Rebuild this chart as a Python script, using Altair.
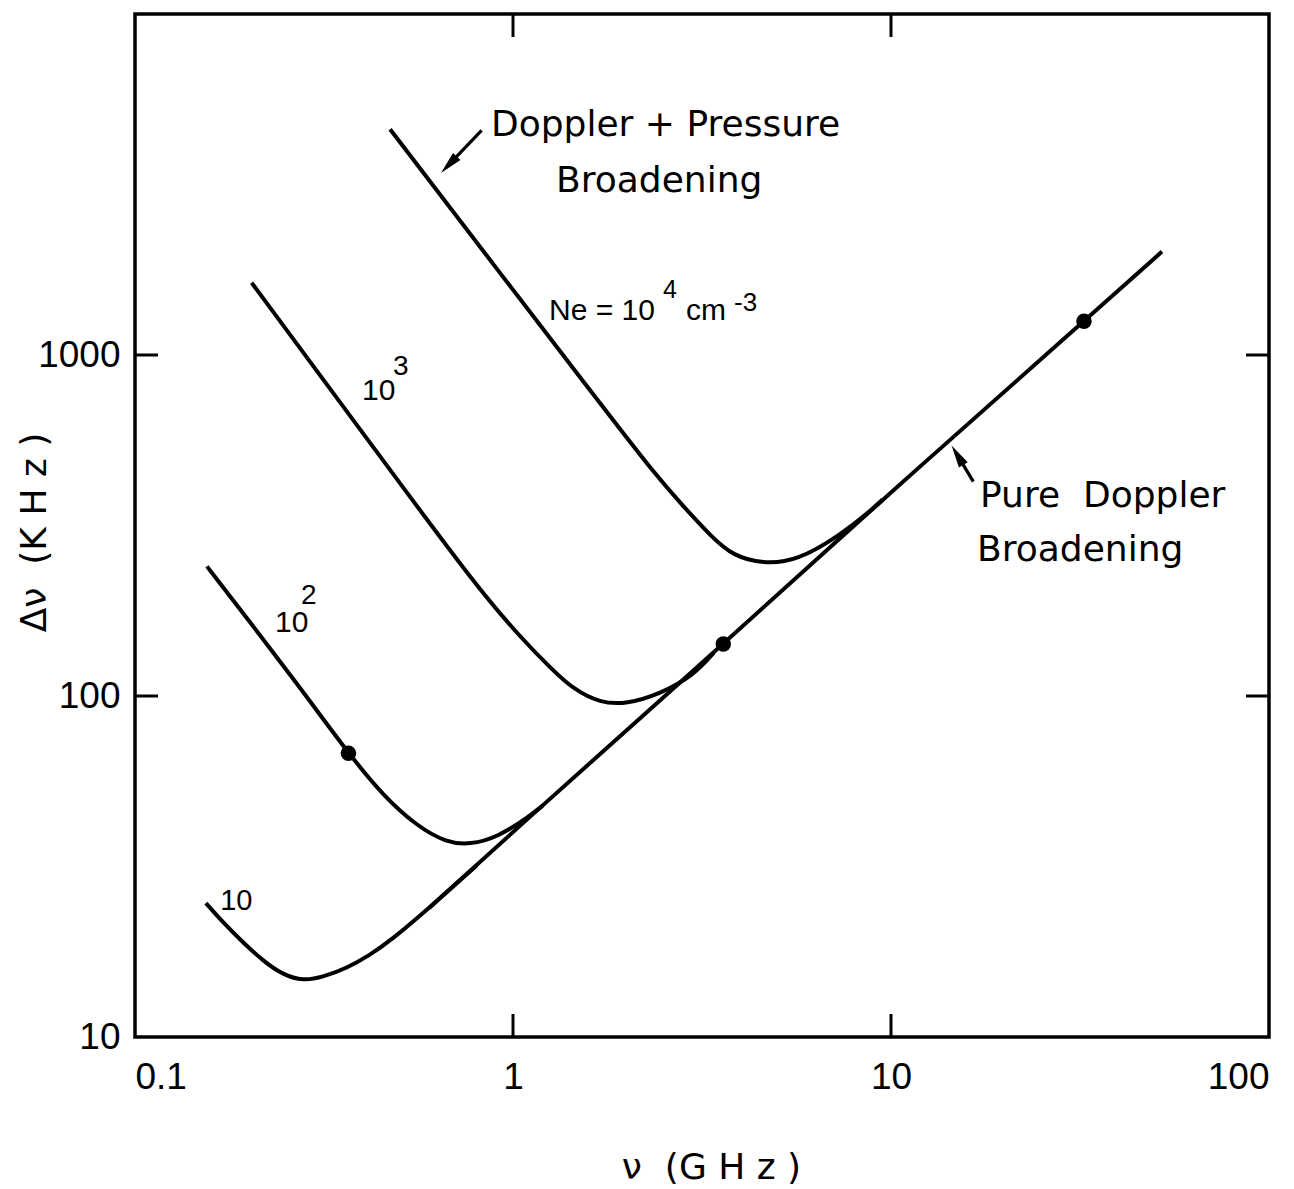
import altair as alt
import pandas as pd

# ---- data (nu in GHz, delta-nu in kHz) ----
ne4_nu = [0.473, 0.869, 1.643, 1.977, 2.345, 2.77, 3.38, 3.82, 4.58, 5.64, 7.33, 8.80, 9.5]
ne4_dv = [4590, 1902, 757, 582, 456, 368, 290, 258, 244, 249, 296, 348, 377]

ne3_nu = [0.2035, 0.386, 0.502, 0.785, 1.043, 1.278, 1.442, 1.699, 2.0, 2.448, 3.0, 3.4]
ne3_dv = [1629, 624, 421, 216, 148.8, 118.7, 104.9, 95.4, 94.7, 101.4, 114.7, 134]

ne2_nu = [0.155, 0.218, 0.279, 0.367, 0.454, 0.556, 0.668, 0.770, 0.906, 1.109, 1.2]
ne2_dv = [240, 147, 102.6, 67.9, 50.9, 41.6, 37.1, 36.7, 38.4, 44.5, 47.8]

ne1_nu = [0.154, 0.1714, 0.1934, 0.2185, 0.2467, 0.2787, 0.3148, 0.363, 0.4184, 0.4727, 0.6, 0.8]
ne1_dv = [24.7, 21.6, 18.9, 16.7, 15.2, 14.6, 15.0, 15.9, 17.4, 19.1, 23.9, 31.8]

dop_nu = [0.6, 1.0, 3.6, 10.0, 32.4, 52.1]
dop_dv = [23.9, 40.0, 142, 397, 1256, 2010]

dot_nu = [0.367, 3.60, 32.4]
dot_dv = [67.9, 142, 1256]

x_ticks = [0.1, 1, 10, 100]
y_ticks = [10, 100, 1000]
inner_x_ticks = [1, 10]
inner_y_ticks = [100, 1000]

NB = "\u00a0"
word_text = ["Doppler + Pressure", "Broadening", "Pure" + NB + NB + "Doppler", "Broadening"]
word_x = [0.8745, 1.300, 17.20, 16.89]
word_y = [4377, 3016, 357.2, 249.5]
word_fs = [36, 36, 36, 36]

num_text = ["Ne = 10", "4", "cm", "-3", "10", "3", "10", "2", "10"]
num_x = [1.245, 2.494, 2.869, 3.843, 0.3985, 0.4814, 0.2346, 0.2749, 0.1680]
num_y = [1267, 1471, 1267, 1347, 737, 873, 154.2, 186.5, 23.6]
num_fs = [30, 25, 30, 26, 30, 28, 30, 28, 29]

arrow_x = [0.826, 16.51]
arrow_y = [4559, 425.3]
arrow_x2 = [0.6765, 14.99]
arrow_y2 = [3615, 508.4]
arrow_ang = [223.7, 329]

W, H = 1134, 1023
TL = 23

rows = []
for name, nus, dvs in [("1e4", ne4_nu, ne4_dv), ("1e3", ne3_nu, ne3_dv),
                       ("1e2", ne2_nu, ne2_dv), ("1e1", ne1_nu, ne1_dv),
                       ("doppler", dop_nu, dop_dv)]:
    for a, b in zip(nus, dvs):
        rows.append({"series": name, "nu": a, "dv": b})
curves = pd.DataFrame(rows)

xs = alt.Scale(type="log", domain=[0.1, 100])
ys = alt.Scale(type="log", domain=[10, 10000])

xaxis = alt.Axis(values=x_ticks, format="~g", labelFlush=True, labelPadding=22,
                 title="ν" + NB + NB + "(G" + NB + "H" + NB + "z" + NB + ")", titleX=576, titleY=141,
                 titleBaseline="alphabetic", titleAlign="center")
yaxis = alt.Axis(values=y_ticks, format="~g", labelFlush=False, labelPadding=15,
                 title="Δν" + NB + NB + "(K" + NB + "H" + NB + "z" + NB + ")", titleX=-90, titleY=518,
                 titleAngle=270, titleBaseline="alphabetic", titleAlign="center")


def X(field):
    return alt.X(field, scale=xs, axis=xaxis)


def Y(field):
    return alt.Y(field, scale=ys, axis=yaxis)


lines = alt.Chart(curves).mark_line(color="black", strokeWidth=4, interpolate="basis").encode(
    x=X("nu:Q"), y=Y("dv:Q"), detail="series:N",
)

dots = alt.Chart(pd.DataFrame({"nu": dot_nu, "dv": dot_dv})).mark_circle(
    color="black", size=240, opacity=1).encode(x=X("nu:Q"), y=Y("dv:Q"))

xt = pd.DataFrame({"v": inner_x_ticks})
yt = pd.DataFrame({"v": inner_y_ticks})
tick_b = alt.Chart(xt).mark_rule(color="black", strokeWidth=3).encode(
    x=X("v:Q"), y=alt.value(H), y2=alt.value(H - TL))
tick_t = alt.Chart(xt).mark_rule(color="black", strokeWidth=3).encode(
    x=X("v:Q"), y=alt.value(0), y2=alt.value(TL))
tick_l = alt.Chart(yt).mark_rule(color="black", strokeWidth=3).encode(
    y=Y("v:Q"), x=alt.value(0), x2=alt.value(TL))
tick_r = alt.Chart(yt).mark_rule(color="black", strokeWidth=3).encode(
    y=Y("v:Q"), x=alt.value(W - TL), x2=alt.value(W))

words = alt.Chart(pd.DataFrame({"t": word_text, "x": word_x, "y": word_y, "fs": word_fs})).mark_text(
    align="left", baseline="alphabetic", font="DejaVu Sans", color="black").encode(
    x=X("x:Q"), y=Y("y:Q"), text="t:N", size=alt.Size("fs:Q", scale=None),
)

nums = alt.Chart(pd.DataFrame({"t": num_text, "x": num_x, "y": num_y, "fs": num_fs})).mark_text(
    align="left", baseline="alphabetic", font="Liberation Sans", color="black").encode(
    x=X("x:Q"), y=Y("y:Q"), text="t:N", size=alt.Size("fs:Q", scale=None),
)

adf = pd.DataFrame({"x": arrow_x, "y": arrow_y, "x2": arrow_x2, "y2": arrow_y2, "ang": arrow_ang})
arrow_lines = alt.Chart(adf).mark_rule(color="black", strokeWidth=3.2).encode(
    x=X("x:Q"), y=Y("y:Q"), x2="x2:Q", y2="y2:Q",
)
arrow_heads = alt.Chart(adf).mark_point(
    shape="M0,-1L0.45,1L-0.45,1Z", filled=True, color="black", opacity=1, size=520).encode(
    x=X("x2:Q"), y=Y("y2:Q"), angle=alt.Angle("ang:Q", scale=None),
)

chart = alt.layer(
    lines, dots, tick_b, tick_t, tick_l, tick_r, words, nums, arrow_lines, arrow_heads
).properties(
    width=W, height=H,
    autosize=alt.AutoSizeParams(type="none"),
    padding={"left": 135, "top": 14, "right": 25, "bottom": 152},
    background="white",
).configure_view(
    stroke="black", strokeWidth=3.5
).configure_axis(
    grid=False, domain=False, ticks=False, tickSize=0,
    labelFont="Liberation Sans", labelFontSize=37, labelColor="black",
    titleFont="DejaVu Sans", titleFontSize=36, titleColor="black", titleFontWeight="normal",
)

chart.save("out.html", embed_options={"renderer": "svg", "actions": False})
